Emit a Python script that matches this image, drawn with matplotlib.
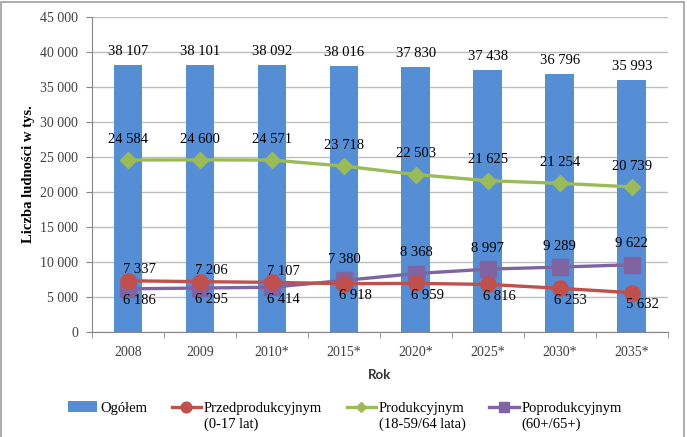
import matplotlib
import numpy as np
import matplotlib.pyplot as plt
from matplotlib.patches import Rectangle

matplotlib.use('Agg')

years = ['2008', '2009', '2010*', '2015*', '2020*', '2025*', '2030*', '2035*']
total = [38107, 38101, 38092, 38016, 37830, 37438, 36796, 35993]
pre_working = [7337, 7206, 7107, 6918, 6959, 6816, 6253, 5632]
working = [24584, 24600, 24571, 23718, 22503, 21625, 21254, 20739]
post_working = [6186, 6295, 6414, 7380, 8368, 8997, 9289, 9622]

names = ['Ogółem', 'Przedprodukcyjnym', 'Produkcyjnym', 'Poprodukcyjnym']
second_lines = ['', '(0-17 lat)', '(18-59/64 lata)', '(60+/65+)']

serif = 'Liberation Serif'
plt.rcParams['font.family'] = serif
plt.rcParams['font.size'] = 10


def fmt(v):
    return f'{v:,}'.replace(',', ' ')


fig = plt.figure(figsize=(6.87, 4.37), dpi=100)
ax = fig.add_axes([0.134, 0.240, 0.838, 0.721])

x = np.arange(len(years))
bars = ax.bar(x, total, width=0.4, color='#558ED5', zorder=2, label=names[0])
l1, = ax.plot(x, pre_working, color='#C0504D', lw=2.4, marker='o', ms=11, zorder=4, label=names[1])
l2, = ax.plot(x, working, color='#9BBB59', lw=2.4, marker='D', ms=8, zorder=4, label=names[2])
l3, = ax.plot(x, post_working, color='#8064A2', lw=2.4, marker='s', ms=11, zorder=3, label=names[3])

for i in x:
    ax.annotate(fmt(total[i]), (i, total[i]), xytext=(0, 10), textcoords='offset points',
                ha='center', va='center', fontsize=10.5)
    ax.annotate(fmt(working[i]), (i, working[i]), xytext=(0, 15), textcoords='offset points',
                ha='center', va='center', fontsize=10.5)
    if pre_working[i] > post_working[i]:
        red_off, pur_off = (8, 8), (8, -8.5)
    else:
        red_off, pur_off = (8, -8.5), (0, 15)
    ax.annotate(fmt(pre_working[i]), (i, pre_working[i]), xytext=red_off, textcoords='offset points',
                ha='center', va='center', fontsize=10.5, zorder=6)
    ax.annotate(fmt(post_working[i]), (i, post_working[i]), xytext=pur_off, textcoords='offset points',
                ha='center', va='center', fontsize=10.5, zorder=6)

ax.set_xlim(-0.5, len(years) - 0.5)
ax.set_ylim(0, 45000)
ax.set_yticks(np.arange(0, 45001, 5000))
ax.set_yticklabels([fmt(v) for v in range(0, 45001, 5000)])
ax.set_xticks(x)
ax.set_xticklabels(years)
ax.set_xticks(np.arange(-0.5, len(years)), minor=True)
ax.tick_params(axis='x', which='major', length=0, pad=10, labelsize=10, colors='#404040')
ax.tick_params(axis='x', which='minor', length=4, color='#868686')
ax.tick_params(axis='y', length=4, pad=6, labelsize=10, color='#868686', labelcolor='#404040')
ax.grid(axis='y', color='#BEBEBE', lw=1, zorder=0)
ax.set_axisbelow(True)
for s in ['top', 'right']:
    ax.spines[s].set_visible(False)
for s in ['left', 'bottom']:
    ax.spines[s].set_color('#868686')

ax.set_ylabel('Liczba ludności w tys.', fontweight='bold', fontsize=10.5, labelpad=4)
ax.set_xlabel('Rok', family='Lato', fontweight='bold', fontsize=9.5, labelpad=7, color='#333333')

leg = fig.legend([bars, l1, l2, l3], names, loc='center', bbox_to_anchor=(0.502, 0.066),
                 ncol=4, frameon=False, fontsize=10.5, handlelength=2.0, handletextpad=0.2,
                 columnspacing=1.7, handleheight=0.8, markerscale=0.7)

fig.patches.append(Rectangle((0.001, -0.01), 0.995, 1.005, transform=fig.transFigure,
                             fill=False, ec='#A0A0A0', lw=1.2))

fig.canvas.draw()
inv = fig.transFigure.inverted()
for t, extra in zip(leg.get_texts(), second_lines):
    if extra:
        bb = t.get_window_extent().transformed(inv)
        fig.text(bb.x0, bb.y0 - 0.005, extra, ha='left', va='top', fontsize=10.5)

fig.savefig('out.png', dpi=100)
